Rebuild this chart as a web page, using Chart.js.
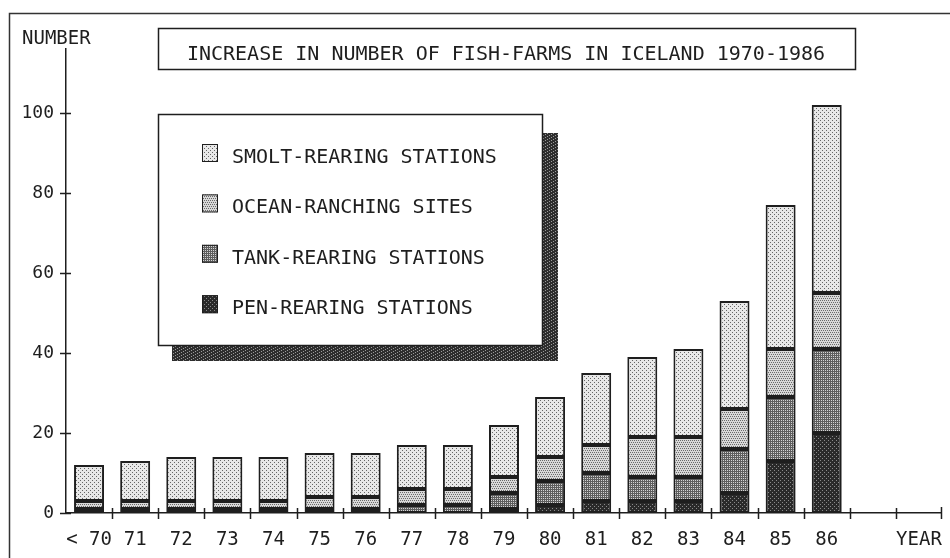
<!DOCTYPE html>
<html>
<head>
<meta charset="utf-8">
<title>Fish-farms in Iceland 1970-1986</title>
<script src="https://cdn.jsdelivr.net/npm/chart.js@4.4.1/dist/chart.umd.min.js"></script>
<style>
  html, body { margin: 0; padding: 0; background: #fff; }
  canvas { display: block; }
</style>
</head>
<body>
<canvas id="farmChart" width="950" height="558"></canvas>
<script>
// data (number of stations per year)
const years = ["< 70", "71", "72", "73", "74", "75", "76", "77", "78", "79", "80", "81", "82", "83", "84", "85", "86", "", "YEAR"];
const penRearing = [0, 0, 0, 0, 0, 0, 0, 0, 0, 1, 2, 3, 3, 3, 5, 13, 20, null, null];
const tankRearing = [1, 1, 1, 1, 1, 1, 1, 2, 2, 4, 6, 7, 6, 6, 11, 16, 21, null, null];
const oceanRanching = [2, 2, 2, 2, 2, 3, 3, 4, 4, 4, 6, 7, 10, 10, 10, 12, 14, null, null];
const smoltRearing = [9, 10, 11, 11, 11, 11, 11, 11, 11, 13, 15, 18, 20, 22, 27, 36, 47, null, null];
const yTicks = [0, 20, 40, 60, 80, 100];

const chartTitle = "INCREASE IN NUMBER OF FISH-FARMS IN ICELAND 1970-1986";
const yAxisLabel = "NUMBER";
const FONT = "'DejaVu Sans Mono', 'Liberation Mono', monospace";
const INK = "#1e1e1e";

// small dot patterns to mimic the printout shading
function makePattern(base, dot, dots, w, h) {
  const c = document.createElement("canvas");
  c.width = w;
  c.height = h;
  const g = c.getContext("2d");
  g.fillStyle = base;
  g.fillRect(0, 0, w, h);
  g.fillStyle = dot;
  for (const [x, y] of dots) g.fillRect(x, y, 1, 1);
  return g.createPattern(c, "repeat");
}

const ctx = document.getElementById("farmChart").getContext("2d");

const smoltFill = makePattern("#e8e8e8", "#666", [[0, 0], [2, 2]], 4, 4);
const oceanFill = makePattern("#d8d8d8", "#6a6a6a", [[0, 0], [2, 0], [1, 2], [3, 2]], 4, 4);
const tankFill = makePattern("#5e5e5e", "#d4d4d4", [[1, 0]], 2, 2);
const penFill = makePattern("#2a2a2a", "#8a8a8a", [[0, 0], [2, 2]], 4, 4);
const shadowFill = makePattern("#2e2e2e", "#9a9a9a", [[1, 1], [3, 0], [5, 2]], 6, 3);

// frame, title box, "NUMBER", custom legend box, crossing tick marks
const decorations = {
  id: "decorations",
  beforeDraw(chart) {
    const c = chart.ctx;
    c.save();
    c.fillStyle = "#fff";
    c.fillRect(0, 0, chart.width, chart.height);
    c.restore();
  },
  afterDraw(chart) {
    const c = chart.ctx;
    const xs = chart.scales.x;
    const ys = chart.scales.y;
    const area = chart.chartArea;
    c.save();

    // outer frame (left and top edges only are visible)
    c.strokeStyle = "#333";
    c.lineWidth = 1.5;
    c.beginPath();
    c.moveTo(9.5, chart.height + 2);
    c.lineTo(9.5, 13.5);
    c.lineTo(chart.width + 2, 13.5);
    c.stroke();

    // title box
    c.lineWidth = 1.5;
    c.strokeStyle = INK;
    c.strokeRect(158.5, 28.5, 697, 41);
    c.fillStyle = INK;
    c.font = "20px " + FONT;
    c.textAlign = "center";
    c.textBaseline = "alphabetic";
    c.fillText(chartTitle, 506, 60);

    // y axis name
    c.font = "19px " + FONT;
    c.textAlign = "left";
    c.fillText(yAxisLabel, 22, 44);

    // y tick marks crossing the axis
    c.lineWidth = 1.5;
    c.beginPath();
    for (const v of yTicks) {
      const py = Math.round(ys.getPixelForValue(v)) + 0.5;
      c.moveTo(area.left - 6, py);
      c.lineTo(area.left + 5, py);
    }
    // x tick marks between the categories and at the end of the axis
    const by = area.bottom;
    for (let i = 0; i < years.length - 1; i++) {
      const px = Math.round((xs.getPixelForValue(i) + xs.getPixelForValue(i + 1)) / 2) + 0.5;
      c.moveTo(px, by - 5);
      c.lineTo(px, by + 6);
    }
    c.moveTo(area.right - 0.5, by - 6);
    c.lineTo(area.right - 0.5, by + 6);
    c.stroke();

    // legend box with a heavy drop shadow
    c.fillStyle = shadowFill;
    c.fillRect(172, 133, 386, 228);
    c.fillStyle = "#fff";
    c.fillRect(158, 114, 385, 232);
    c.strokeStyle = INK;
    c.lineWidth = 1.5;
    c.strokeRect(158.5, 114.5, 384, 231);

    const rows = chart.data.datasets.slice().reverse();
    c.font = "20px " + FONT;
    c.textAlign = "left";
    rows.forEach((ds, i) => {
      const base = 163 + i * 50.4;
      c.fillStyle = ds.backgroundColor;
      c.fillRect(202, base - 19, 16, 18);
      c.strokeStyle = INK;
      c.lineWidth = 1;
      c.strokeRect(202.5, base - 18.5, 15, 17);
      c.fillStyle = INK;
      c.fillText(ds.label, 232, base);
    });

    c.restore();
  },
};

const barStyle = {
  borderColor: INK,
  borderWidth: 2,
  borderSkipped: false,
  barPercentage: 0.65,
  categoryPercentage: 1,
};

new Chart(ctx, {
  type: "bar",
  data: {
    labels: years,
    datasets: [
      { label: "PEN-REARING STATIONS", data: penRearing, backgroundColor: penFill, ...barStyle },
      { label: "TANK-REARING STATIONS", data: tankRearing, backgroundColor: tankFill, ...barStyle },
      { label: "OCEAN-RANCHING SITES", data: oceanRanching, backgroundColor: oceanFill, ...barStyle },
      { label: "SMOLT-REARING STATIONS", data: smoltRearing, backgroundColor: smoltFill, ...barStyle },
    ],
  },
  options: {
    responsive: false,
    animation: false,
    devicePixelRatio: 1,
    layout: { padding: { top: 49, right: 7, left: 0, bottom: 0 } },
    plugins: {
      legend: { display: false },
      title: { display: false },
      tooltip: { enabled: false },
    },
    scales: {
      x: {
        stacked: true,
        grid: { display: false },
        border: { display: true, color: INK, width: 1.5 },
        ticks: {
          autoSkip: false,
          maxRotation: 0,
          padding: 8,
          color: INK,
          font: { family: FONT, size: 19 },
        },
        afterFit(scale) {
          scale.height = 45;
        },
      },
      y: {
        stacked: true,
        min: 0,
        max: 116,
        grid: { display: false },
        border: { display: true, color: INK, width: 1.5 },
        afterBuildTicks(scale) {
          scale.ticks = yTicks.map((v) => ({ value: v }));
        },
        ticks: {
          padding: 4,
          color: INK,
          font: { family: FONT, size: 18 },
        },
        afterFit(scale) {
          scale.width = 66;
        },
      },
    },
  },
  plugins: [decorations],
});
</script>
</body>
</html>
